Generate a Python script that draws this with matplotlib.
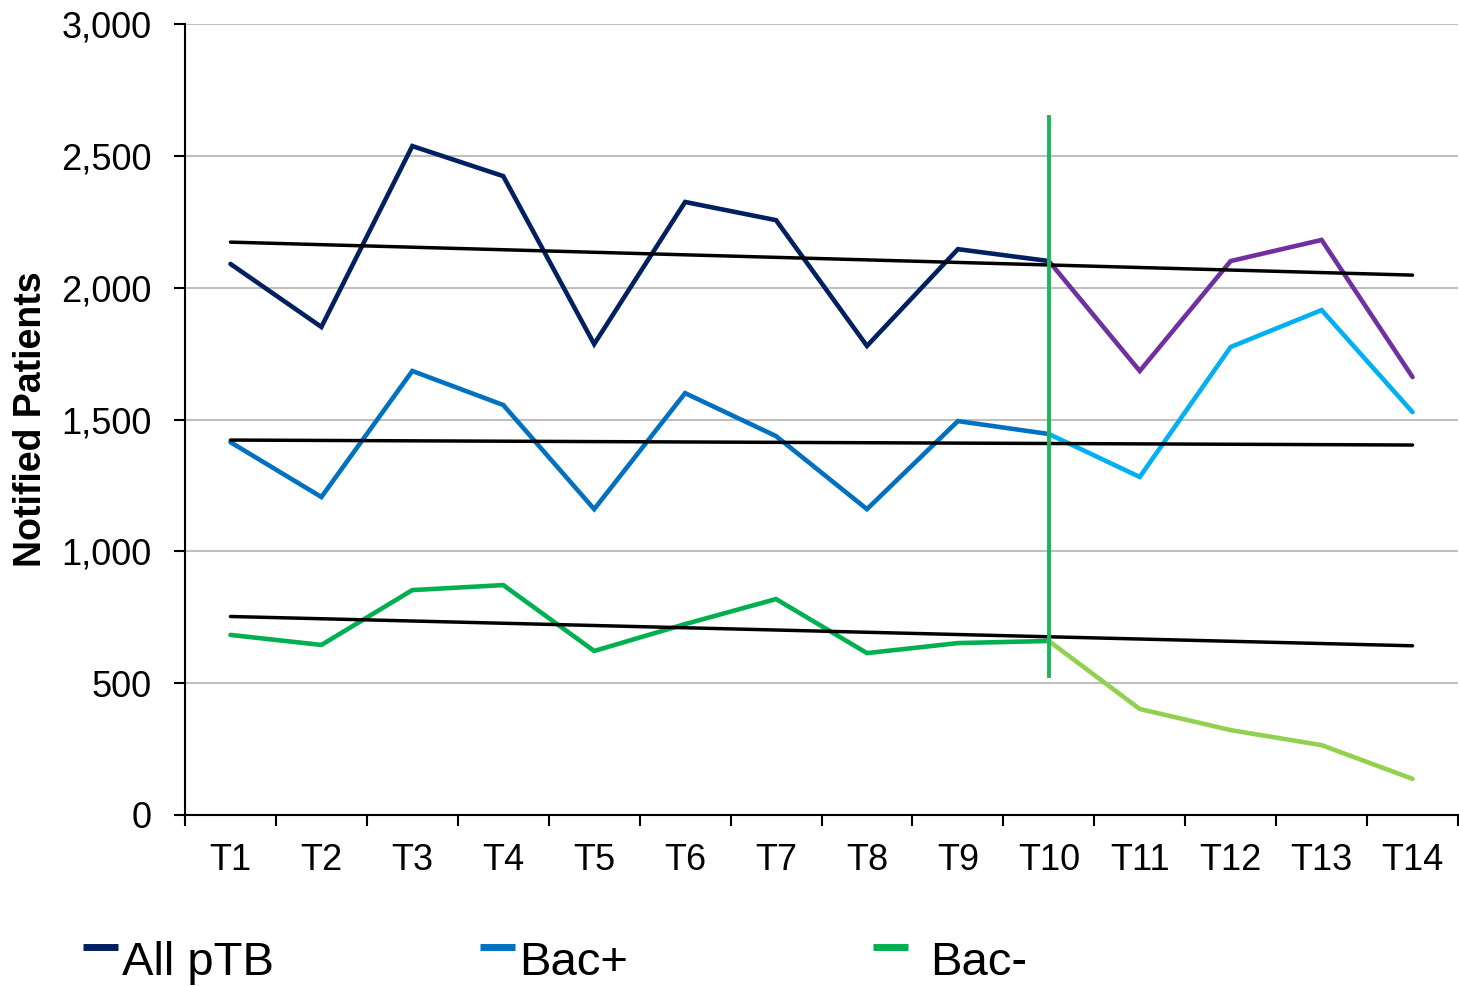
import numpy as np
import matplotlib
matplotlib.use("Agg")
import matplotlib.pyplot as plt
from matplotlib.lines import Line2D

plt.rcParams['font.family'] = ['Liberation Sans', 'DejaVu Sans']

periods = ["T1", "T2", "T3", "T4", "T5", "T6", "T7", "T8", "T9", "T10",
           "T11", "T12", "T13", "T14"]
all_ptb = [2090, 1851, 2537, 2423, 1786, 2325, 2256, 1779, 2146, 2101,
           1684, 2101, 2181, 1661]
bac_pos = [1414, 1206, 1684, 1555, 1160, 1600, 1437, 1160, 1494, 1445,
           1282, 1775, 1915, 1528]
bac_neg = [683, 645, 853, 872, 622, 724, 819, 614, 652, 660,
           402, 322, 265, 137]
series_names = ["All pTB", "Bac+", "Bac-"]
pre_colors = ["#002060", "#0070c0", "#00b050"]
post_colors = ["#7030a0", "#00b0f0", "#92d050"]
baseline_periods = 10          # trend fitted on T1..T10, extended to T14
marker_period = "T10"
marker_span = (527, 2647)

fig = plt.figure(figsize=(14.59, 9.86), dpi=100)
ax = fig.add_axes([185 / 1459, 1 - 815 / 986, 1273 / 1459, 791 / 986])

x = np.arange(len(periods))
cut = baseline_periods - 1

for vals, c_pre, c_post in zip([all_ptb, bac_pos, bac_neg], pre_colors, post_colors):
    v = np.array(vals, dtype=float)
    ax.plot(x[:cut + 1], v[:cut + 1], color=c_pre, lw=3.3,
            solid_capstyle='round', solid_joinstyle='miter', zorder=3)
    ax.plot(x[cut:], v[cut:], color=c_post, lw=3.3,
            solid_capstyle='round', solid_joinstyle='miter', zorder=3)
    # linear trend of the baseline period, projected forward
    k, b = np.polyfit(x[:baseline_periods], v[:baseline_periods], 1)
    ax.plot(x, k * x + b, color="black", lw=2.5, solid_capstyle='round', zorder=4)

mx = periods.index(marker_period)
ax.plot([mx, mx], marker_span, color="#1db55a", lw=2.8, zorder=5)

ax.set_xlim(-0.5, len(periods) - 0.5)
ax.set_ylim(0, 3000)
ax.set_yticks(np.arange(0, 3001, 500))
ax.yaxis.set_major_formatter(matplotlib.ticker.FuncFormatter(lambda v, p: f"{int(v):,}"))
ax.grid(axis='y', color="#bfbfbf", lw=1.5)
ax.set_axisbelow(True)

ax.set_xticks(x)
ax.set_xticklabels(periods)
ax.set_xticks(np.arange(-0.5, len(periods)), minor=True)
ax.tick_params(axis='x', which='major', length=0, pad=20, labelsize=26)
ax.tick_params(axis='x', which='minor', length=8, width=1.5, direction='out')
ax.tick_params(axis='y', length=8, width=1.5, pad=16, labelsize=26)

for s in ("top", "right"):
    ax.spines[s].set_visible(False)
for s in ("left", "bottom"):
    ax.spines[s].set_linewidth(1.5)
    ax.spines[s].set_color("black")

fig.text(31 / 1459, 1 - 419 / 986, "Notified Patients", rotation=90,
         ha='center', va='center', fontsize=27, fontweight='bold')

# legend: short colour bars followed by the series names
handle_x = [83, 480, 873]
text_x = [122, 519, 930]
for hx, tx, name, col in zip(handle_x, text_x, series_names, pre_colors):
    fig.add_artist(Line2D([hx / 1459, (hx + 35) / 1459], [1 - 947 / 986] * 2,
                          color=col, lw=5, solid_capstyle='butt',
                          transform=fig.transFigure))
    fig.text(tx / 1459, 1 - 975 / 986, name, ha='left', va='baseline', fontsize=34)

fig.savefig("out.png", dpi=100)
